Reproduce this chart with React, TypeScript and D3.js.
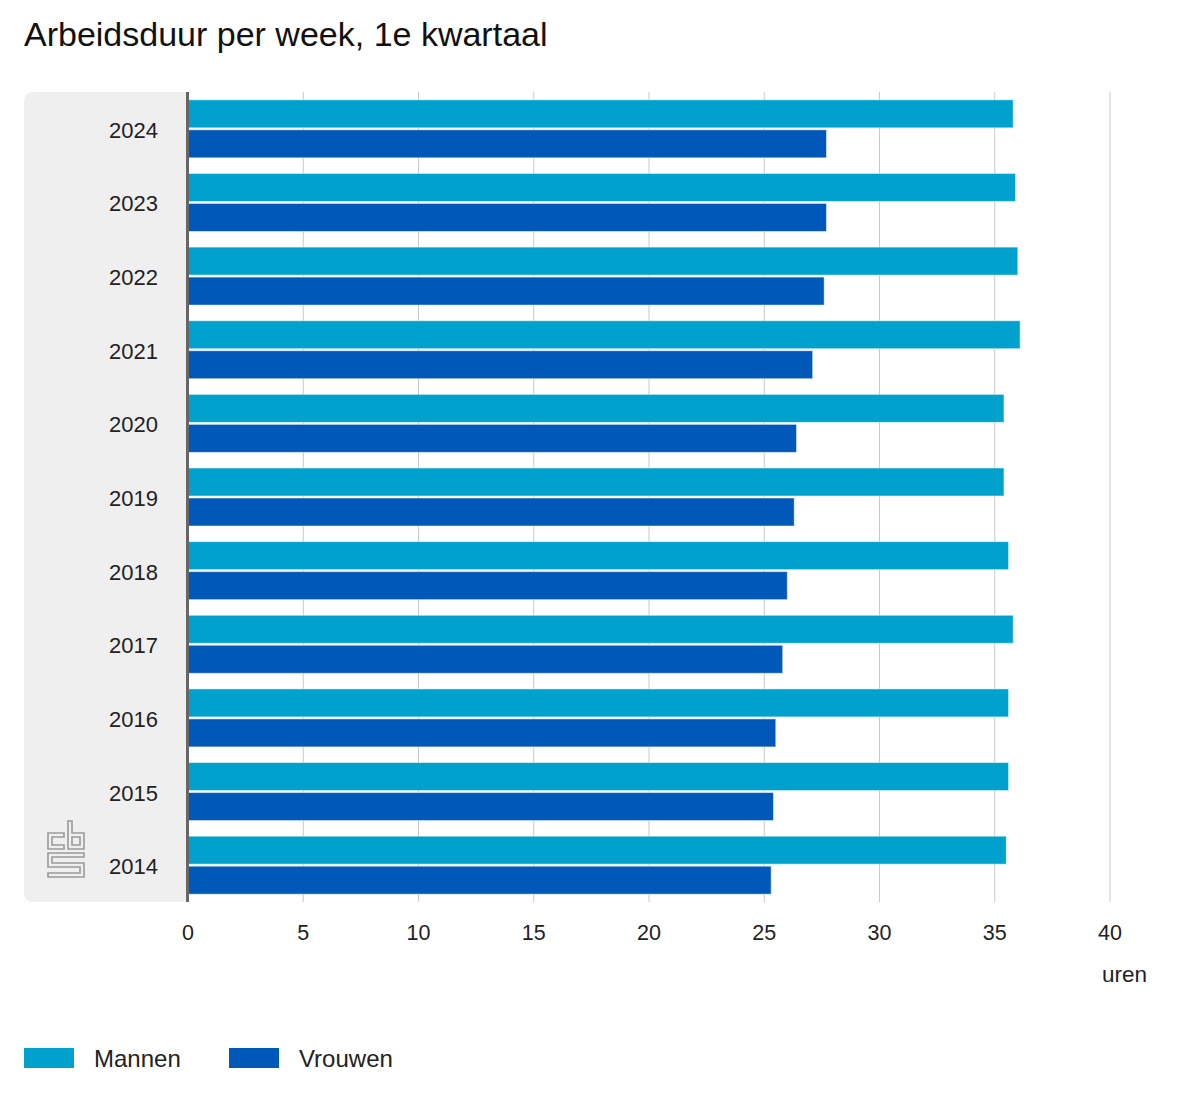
import React from "react";
import * as d3 from "d3";

const years = ["2024", "2023", "2022", "2021", "2020", "2019", "2018", "2017", "2016", "2015", "2014"];
const mannen = [35.8, 35.9, 36.0, 36.1, 35.4, 35.4, 35.6, 35.8, 35.6, 35.6, 35.5];
const vrouwen = [27.7, 27.7, 27.6, 27.1, 26.4, 26.3, 26.0, 25.8, 25.5, 25.4, 25.3];
const seriesNames = ["Mannen", "Vrouwen"];
const seriesColors = ["#00a1cd", "#0058b8"];
const xTicks = [0, 5, 10, 15, 20, 25, 30, 35, 40];
const title = "Arbeidsduur per week, 1e kwartaal";
const unitLabel = "uren";

const FONT = "'Liberation Sans', Arial, Helvetica, sans-serif";

export default function App() {
  const W = 1200, H = 1100;
  const left = 188, right = 1110, top = 92, bottom = 902;
  const x = d3.scaleLinear().domain([0, 40]).range([left, right]);
  const y = d3.scaleBand<string>().domain(years).range([top, bottom]).padding(0);
  const inner = d3
    .scaleBand<string>()
    .domain(seriesNames)
    .range([0, y.bandwidth()])
    .paddingInner(2 / 30)
    .paddingOuter(0.2607);
  const values = [mannen, vrouwen];

  const panelLeft = 24;
  const r = 10;
  const panelPath = `M${left},${top} H${panelLeft + r} Q${panelLeft},${top} ${panelLeft},${top + r} V${bottom - r} Q${panelLeft},${bottom} ${panelLeft + r},${bottom} H${left} Z`;

  // CBS logo (simplified outline)
  const lx = 48, ly = 821;
  const logoPaths = [
    "M16,12 H0 V28 H16 V24 H4 V16 H16 Z",
    "M20,0 H24 V12 H36 V28 H20 Z M24,16 V24 H32 V16 Z",
    "M36,32 H0 V46 H32 V52 H0 V56 H36 V42 H4 V36 H36 Z",
  ];

  return (
    <div style={{ position: "absolute", left: 0, top: 0 }}>
      <svg width={W} height={H} style={{ display: "block", fontFamily: FONT }}>
        <rect x={0} y={0} width={W} height={H} fill="#fff" />
        <text x={24} y={46} fontSize={34} fill="#111">{title}</text>

        <path d={panelPath} fill="#efefef" />

        {xTicks.filter((t) => t > 0).map((t) => (
          <line key={t} x1={x(t)} x2={x(t)} y1={top} y2={bottom} stroke="#c8c8c8" strokeWidth={1} />
        ))}

        {years.map((yr, i) => (
          <g key={yr} transform={`translate(0,${y(yr)})`}>
            {seriesNames.map((s, j) => (
              <rect
                key={s}
                x={x(0)}
                y={inner(s)}
                width={x(values[j][i]) - x(0)}
                height={inner.bandwidth()}
                fill={seriesColors[j]}
                stroke="#ffffff"
                strokeOpacity={0.5}
                strokeWidth={1}
              />
            ))}
            <text
              x={158}
              y={y.bandwidth() / 2 + 1.5}
              textAnchor="end"
              dominantBaseline="central"
              fontSize={22}
              fill="#222"
            >
              {yr}
            </text>
          </g>
        ))}

        <line x1={left - 0.5} x2={left - 0.5} y1={top} y2={bottom} stroke="#666" strokeWidth={3} />

        {xTicks.map((t) => (
          <text key={t} x={x(t)} y={933} textAnchor="middle" dominantBaseline="central" fontSize={21.5} fill="#222">
            {t}
          </text>
        ))}
        <text x={1147} y={974} textAnchor="end" dominantBaseline="central" fontSize={22.5} fill="#222">
          {unitLabel}
        </text>

        <g transform={`translate(${lx},${ly})`} fill="none" stroke="#9a9a9a" strokeWidth={1.6}>
          {logoPaths.map((d, i) => (
            <path key={i} d={d} />
          ))}
        </g>

        {seriesNames.map((s, j) => {
          const lxs = j === 0 ? 24 : 229;
          return (
            <g key={s}>
              <rect x={lxs} y={1048} width={50} height={20} fill={seriesColors[j]} />
              <text x={lxs + 70} y={1058} dominantBaseline="central" fontSize={24} fill="#222">
                {s}
              </text>
            </g>
          );
        })}
      </svg>
    </div>
  );
}
